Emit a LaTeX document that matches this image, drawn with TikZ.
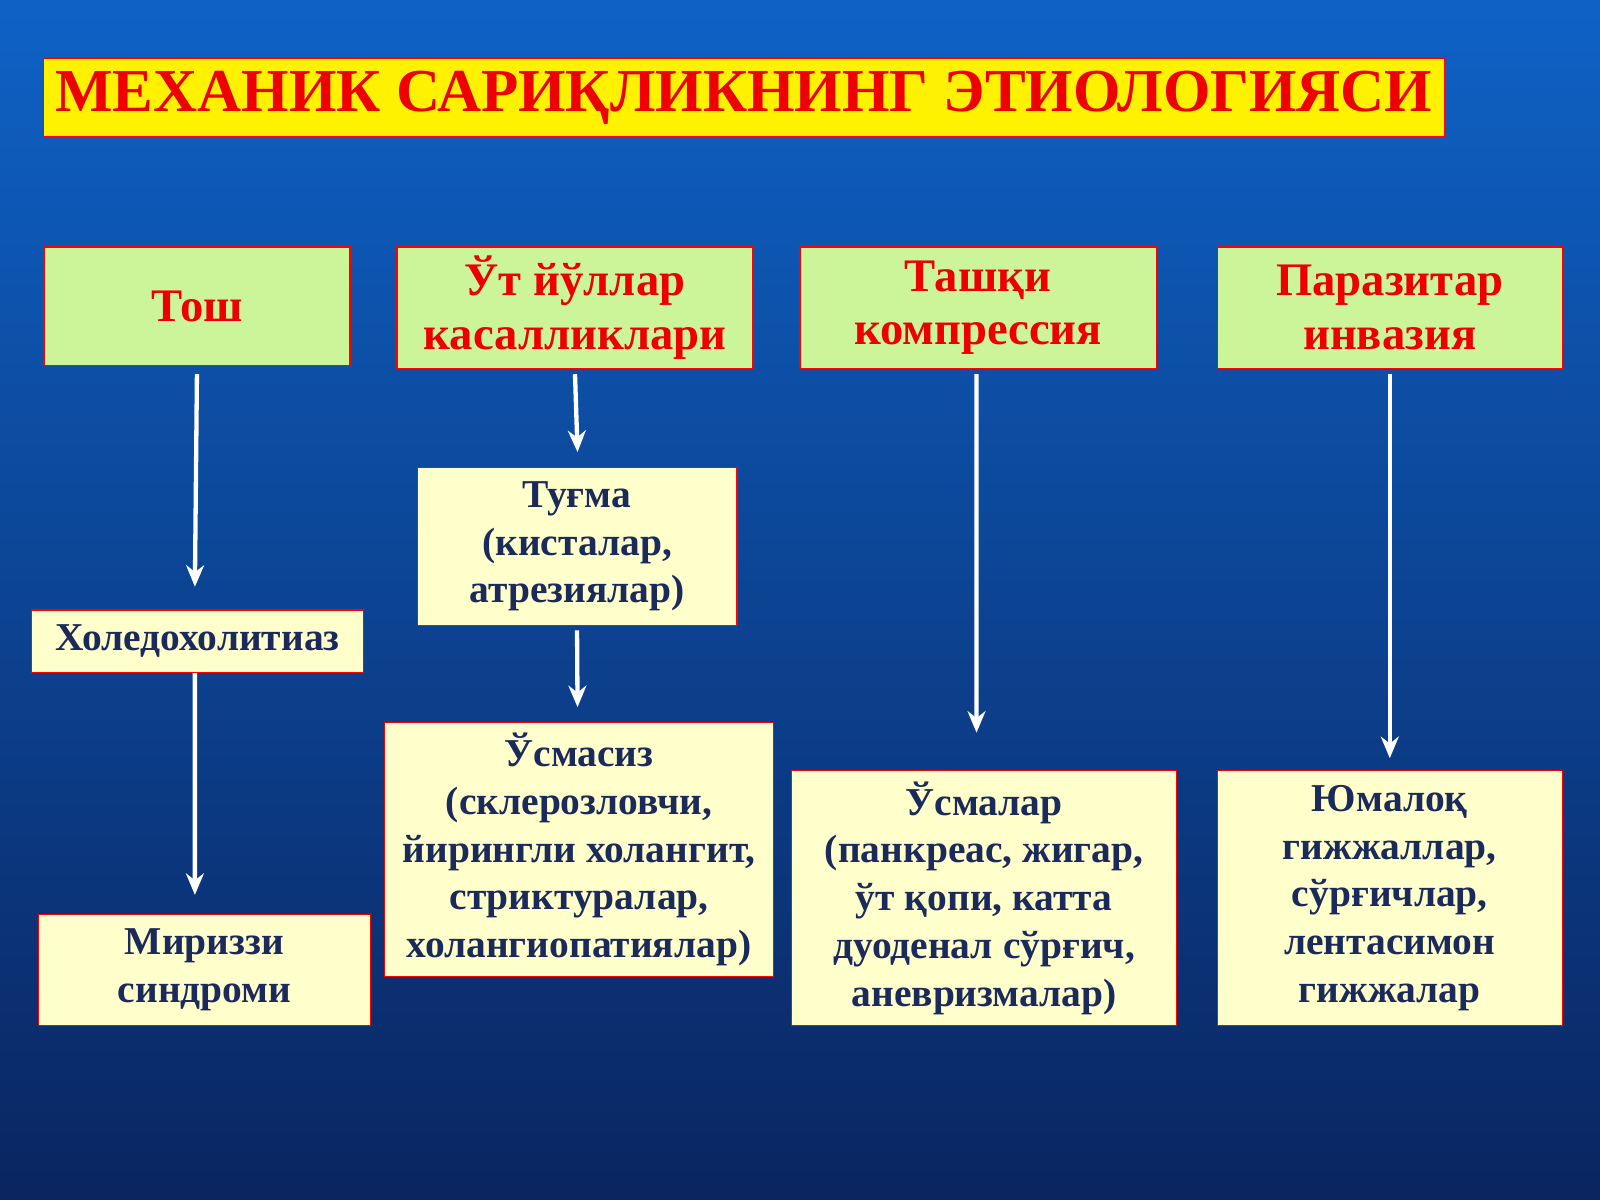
\documentclass[tikz,border=0pt]{standalone}
\usepackage{fontspec}
\setmainfont{Liberation Serif}
\usetikzlibrary{arrows.meta}
\definecolor{bgtop}{HTML}{0E62C6}
\definecolor{bgbot}{HTML}{0A2560}
\definecolor{greenbox}{HTML}{CCF59A}
\definecolor{yellowbox}{HTML}{FFFFCC}
\definecolor{navytext}{HTML}{1A2A5A}
\definecolor{redtext}{HTML}{EE0000}
\begin{document}
\begin{tikzpicture}[x=0.01cm,y=-0.01cm]
  \shade [top color=bgtop, bottom color=bgbot] (0,0) rectangle (1568,1176);  % Hintergrund.
  \tikzstyle{head}=[draw=red, fill=greenbox, text=redtext, font=\fontsize{13}{15}\selectfont\bfseries, align=center, inner sep=0pt]
  \tikzstyle{item}=[draw=red, fill=yellowbox, text=navytext, font=\fontsize{11}{13.3}\selectfont\bfseries, align=center, inner sep=0pt]
  \tikzstyle{arrow}=[draw=white, line width=1.2pt, -{Stealth[length=6pt,width=5pt]}]

  \node[draw=red, fill=yellow, text=redtext, font=\fontsize{17}{20}\selectfont\bfseries, minimum width=12.1cm, minimum height=0.77cm] (title) at (729, 95.5) {МЕХАНИК САРИҚЛИКНИНГ ЭТИОЛОГИЯСИ};

  \node[head, minimum width=3.00cm, minimum height=1.16cm] (tosh) at (193, 300) {Тош};
  \node[head, minimum width=3.49cm, minimum height=1.19cm] (ut) at (563.5, 301.5) {Ўт йўллар\\касалликлари};
  \node[head, minimum width=3.49cm, minimum height=1.19cm] (tashqi) at (958.5, 301.5) {Ташқи\\компрессия};
  \node[head, minimum width=3.38cm, minimum height=1.19cm] (parazit) at (1362, 301.5) {Паразитар\\инвазия};

  \node[item, minimum width=3.25cm, minimum height=0.61cm] (xoled) at (193.5, 628.5) {Холедохолитиаз};
  \node[item, minimum width=3.25cm, minimum height=1.09cm] (mirizzi) at (200.5, 950.5) {Мириззи\\синдроми};
  \node[item, minimum width=3.13cm, minimum height=1.55cm] (tugma) at (565.5, 535.5) {Туғма\\(кисталар,\\атрезиялар)};
  \node[item, minimum width=3.81cm, minimum height=2.49cm] (usmasiz) at (567.5, 832.5) {Ўсмасиз\\(склерозловчи,\\йирингли холангит,\\стриктуралар,\\холангиопатиялар)};
  \node[item, minimum width=3.77cm, minimum height=2.50cm] (usmalar) at (964.5, 880) {Ўсмалар\\(панкреас, жигар,\\ўт қопи, катта\\дуоденал сўрғич,\\аневризмалар)};
  \node[item, minimum width=3.38cm, minimum height=2.50cm] (yumaloq) at (1362, 880) {Юмалоқ\\гижжаллар,\\сўрғичлар,\\лентасимон\\гижжалар};

  \coordinate (a1) at (191, 575);
  \coordinate (a2) at (566, 443);
  \coordinate (a3) at (566, 693);
  \coordinate (a4) at (957, 718);
  \coordinate (a5) at (1362, 743);
  \coordinate (a6) at (191, 877);

  \path[arrow] ([yshift=-0.08cm]tosh.south) -- (a1);
  \path[arrow] ([yshift=-0.05cm]ut.south) -- (a2);
  \path[arrow] ([yshift=-0.04cm]tugma.south) -- (a3);
  \path[arrow] ([yshift=-0.05cm,xshift=-0.015cm]tashqi.south) -- (a4);
  \path[arrow] ([yshift=-0.05cm]parazit.south) -- (a5);
  \path[arrow] ([xshift=-0.025cm]xoled.south) -- (a6);
\end{tikzpicture}
\end{document}
